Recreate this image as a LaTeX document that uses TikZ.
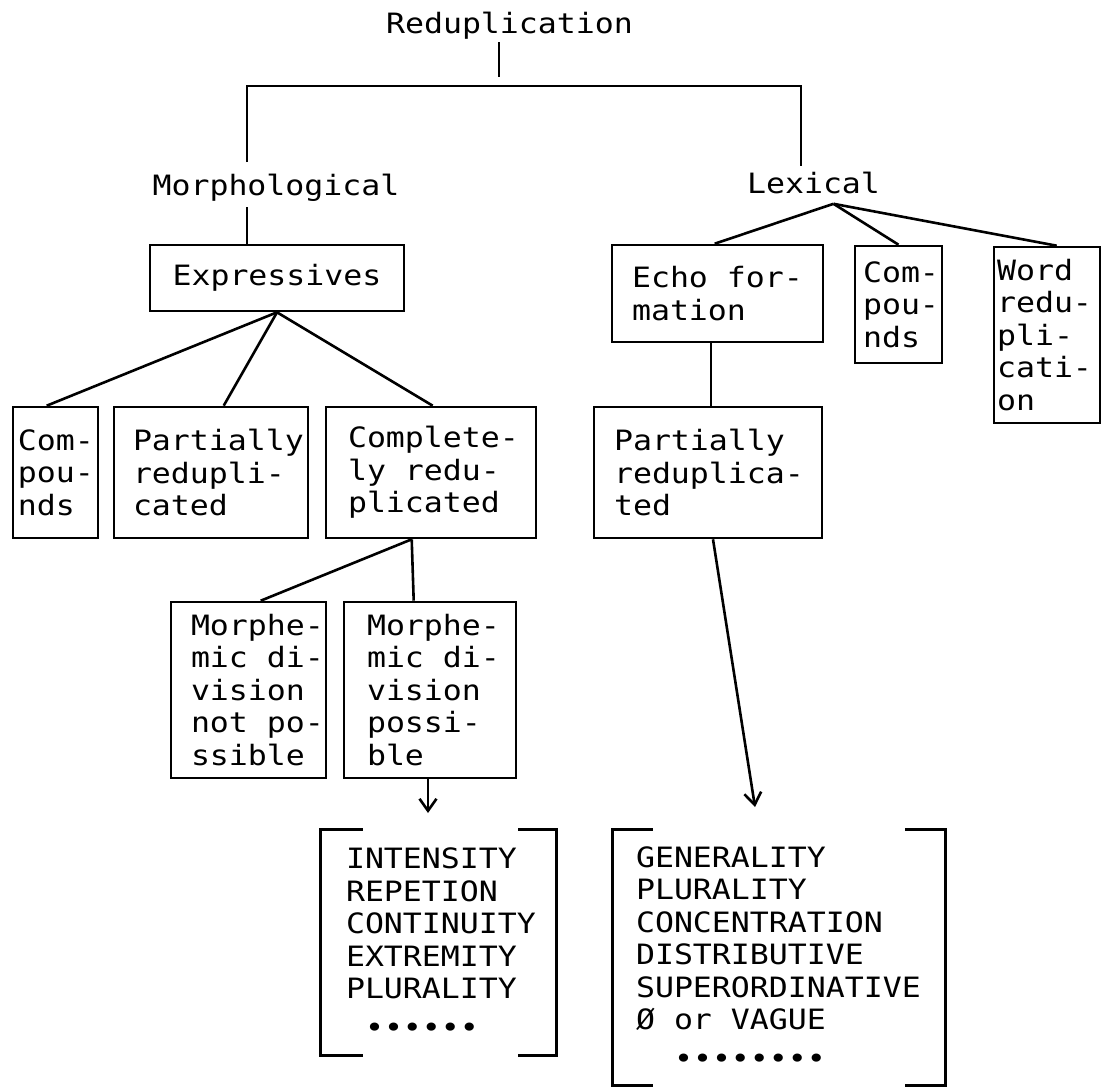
\documentclass[tikz,border=0pt]{standalone}
\usepackage{fontspec}
\usetikzlibrary{arrows.meta}
\newfontfamily\mono{DejaVu Sans Mono}[FakeStretch=1.127]
\hyphenpenalty=10000
\exhyphenpenalty=10000
\newcommand\spc{\leavevmode\hbox to 9.5pt{}}
\begin{document}
\begin{tikzpicture}[x=0.5pt,y=-0.5pt,
  txt/.style={font=\mono\fontsize{14pt}{16.25pt}\selectfont},
  lbl/.style={txt,inner sep=0pt,anchor=base},
  bx/.style={txt,draw,line width=1.3pt,align=left,inner ysep=0pt},
  br/.style={txt,align=left,inner ysep=0pt},
  con/.style={line width=1.3pt},
  arr/.style={line width=1.3pt,-{Straight Barb[length=6pt,width=8.5pt,line width=1.3pt]}}]
\useasboundingbox (0,0) rectangle (1103,1089);
% labels
\node[lbl] (title) at (509.5,33) {Reduplication};
\node[lbl] (morph) at (276,195) {Morphological};
\node[lbl] (lex) at (813.5,193) {Lexical};
% boxes
\node[bx,align=center,minimum width=127pt,minimum height=33pt] (expr) at (277,278) {Expressives};
\node[bx,minimum width=42.5pt,minimum height=65.5pt,inner xsep=2.5pt,text width=37.5pt] (cmpL) at (55.5,472.5) {Com-\\pou-\\nds};
\node[bx,minimum width=97pt,minimum height=65.5pt,inner xsep=9.5pt,text width=78pt] (partL) at (211,472.5) {Partially\\redupli-\\cated};
\node[bx,minimum width=105pt,minimum height=65.5pt,inner xsep=11pt,text width=83pt] (compL) at (431,472.5) {Complete-\\ly\spc redu-\\plicated};
\node[bx,minimum width=77.5pt,minimum height=88pt,inner xsep=10pt,text width=57.5pt] (morphA) at (248.5,690) {Morphe-\\mic\spc di-\\vision\\not\spc po-\\ssible};
\node[bx,minimum width=86pt,minimum height=88pt,inner xsep=11.5pt,text width=63pt] (morphB) at (430,690) {Morphe-\\mic\spc di-\\vision\\possi-\\ble};
\node[bx,minimum width=105.5pt,minimum height=48.5pt,inner xsep=10pt,text width=85.5pt] (echo) at (717.5,293.5) {Echo\spc for-\\mation};
\node[bx,minimum width=43.5pt,minimum height=58.5pt,inner xsep=4pt,text width=35.5pt] (cmpR) at (898.5,304.5) {Com-\\pou-\\nds};
\node[bx,minimum width=53pt,minimum height=88pt,inner xsep=1.5pt,text width=50pt] (word) at (1047,335) {Word\\redu-\\pli-\\cati-\\on};
\node[bx,minimum width=114pt,minimum height=65.5pt,inner xsep=10pt,text width=94pt] (partR) at (708,472.5) {Partially\\reduplica-\\ted};
% bracketed lists
\node[br,minimum width=117.5pt,minimum height=112.5pt,inner xsep=12.5pt,text width=92.5pt] (brL) at (438.5,942.5)
  {INTENSITY\\REPETION\\CONTINUITY\\EXTREMITY\\PLURALITY\\[3pt]\spc••••••};
\node[br,minimum width=166pt,minimum height=127.5pt,inner xsep=11.5pt,text width=143pt] (brR) at (779,957.5)
  {GENERALITY\\PLURALITY\\CONCENTRATION\\DISTRIBUTIVE\\SUPERORDINATIVE\\Ø\spc or\spc VAGUE\\[3pt]\spc\spc••••••••};
\draw[con] ([xshift=21pt]brL.north west) -- (brL.north west) -- (brL.south west) -- ([xshift=21pt]brL.south west);
\draw[con] ([xshift=-19pt]brL.north east) -- (brL.north east) -- (brL.south east) -- ([xshift=-19pt]brL.south east);
\draw[con] ([xshift=20pt]brR.north west) -- (brR.north west) -- (brR.south west) -- ([xshift=20pt]brR.south west);
\draw[con] ([xshift=-20pt]brR.north east) -- (brR.north east) -- (brR.south east) -- ([xshift=-20pt]brR.south east);
% coordinates
\coordinate (top) at (499,77);
\coordinate (jl) at (247,86);
\coordinate (jr) at (801,86);
\coordinate (lexv) at ([xshift=10pt,yshift=-5pt]lex.south);
\coordinate (a1) at (428,813);
\coordinate (a2) at (755,807);
% connectors
\draw[con,shorten <=1.5pt] (title.south -| top) -- (top);
\draw[con] ([yshift=5.5pt]morph.north -| jl) -- (jl) -- (jr) -- ([yshift=2.5pt]lex.north -| jr);
\draw[con,shorten <=3pt] (morph.south -| jl) -- (expr.north -| jl);
\draw[con] (expr.south) -- ([xshift=17.5pt]cmpL.north west);
\draw[con] (expr.south) -- ([xshift=55.5pt]partL.north west);
\draw[con] (expr.south) -- ([xshift=54pt]compL.north west);
\draw[con] ([xshift=43.5pt]compL.south west) -- ([xshift=45.5pt]morphA.north west);
\draw[con] ([xshift=43.5pt]compL.south west) -- ([xshift=35.5pt]morphB.north west);
\draw[arr] (morphB.south -| a1) -- (a1);
\draw[con] (lexv) -- ([xshift=52pt]echo.north west);
\draw[con] (lexv) -- (cmpR.north);
\draw[con] (lexv) -- ([xshift=32pt]word.north west);
\draw[con] ([xshift=-3.25pt]echo.south) -- ([xshift=-3.25pt]echo.south |- partR.north);
\draw[arr] ([xshift=2.5pt]partR.south) -- (a2);
\end{tikzpicture}
\end{document}
